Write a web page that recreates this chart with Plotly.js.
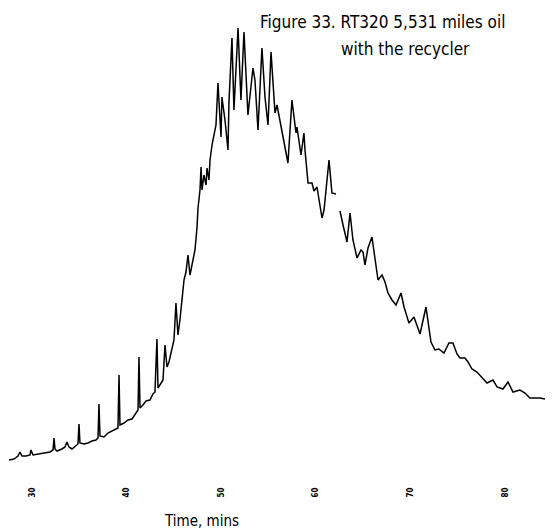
<!DOCTYPE html>
<html>
<head>
<meta charset="utf-8">
<script src="https://cdn.plot.ly/plotly-3.0.1.min.js"></script>
<style>html,body{margin:0;padding:0;background:#fff;}#chart{width:555px;height:531px;}</style>
</head>
<body>
<div id="chart"></div>
<script>
// Retention time (minutes) and detector response (arbitrary units).
// null marks the break in the trace near 62 min.
var timeMins = [
  27.57, 28.10, 28.52, 28.73, 28.94, 29.37, 29.79, 29.89, 30.11, 30.63,
  31.37, 31.90, 32.22, 32.33, 32.43, 32.64, 33.17, 33.49, 33.70, 33.91,
  34.23, 34.65, 34.86, 34.97, 35.07, 35.50, 35.92, 36.34, 36.76, 36.98,
  37.08, 37.19, 37.61, 38.03, 38.46, 38.77, 39.09, 39.20, 39.30, 39.72,
  40.15, 40.57, 40.89, 41.21, 41.31, 41.42, 41.73, 42.05, 42.47, 42.79,
  43.00, 43.21, 43.32, 43.53, 43.85, 44.06, 44.27, 44.48, 44.69, 45.01,
  45.22, 45.43, 45.64, 45.86, 46.07, 46.28, 46.49, 46.70, 47.02, 47.23,
  47.44, 47.55, 47.76, 47.87, 47.97, 48.18, 48.40, 48.50, 48.71, 48.82,
  49.03, 49.24, 49.45, 49.66, 49.98, 50.08, 50.40, 50.72, 50.82, 51.14,
  51.35, 51.78, 52.09, 52.41, 52.83, 53.36, 53.57, 53.89, 54.31, 54.63,
  54.95, 55.27, 55.69, 55.90, 56.32, 56.74, 57.06, 57.48, 57.91, 58.01,
  58.44, 58.75, 58.86, 59.18, 59.60, 59.81, 60.13, 60.23, 60.66, 60.87,
  61.40, 61.71, 62.14, 62.35,
  62.56, 62.77, 62.88, 63.30, 63.62, 63.93, 64.36, 64.78, 64.99, 65.20,
  65.52, 65.94, 66.26, 66.58, 67.00, 67.32, 67.63, 68.06, 68.48, 69.01,
  69.33, 69.85, 70.38, 71.02, 71.65, 72.18, 72.60, 73.02, 73.55, 74.08,
  74.50, 74.93, 75.24, 75.77, 76.09, 76.51, 77.04, 77.57, 78.10, 78.73,
  79.16, 79.79, 80.32, 80.85, 81.59, 82.12, 82.64, 83.70, 84.23
];
var response = [
  10, 11, 14, 18, 14, 14, 15, 20, 15, 16,
  17, 18, 20, 32, 21, 19, 21, 23, 28, 23,
  21, 24, 26, 46, 27, 26, 27, 29, 30, 32,
  66, 34, 33, 37, 39, 40, 42, 95, 45, 47,
  50, 51, 56, 60, 113, 62, 65, 69, 70, 76,
  78, 131, 82, 85, 90, 125, 103, 108, 118, 130,
  167, 135, 150, 170, 190, 198, 215, 195, 212, 220,
  242, 262, 280, 303, 280, 295, 285, 302, 290, 310,
  325, 335, 345, 387, 333, 373, 350, 320, 367, 432,
  360, 442, 370, 438, 355, 402, 390, 340, 422, 373,
  345, 418, 357, 365, 345, 323, 307, 370, 337, 343,
  315, 337, 320, 287, 287, 279, 283, 277, 252, 260,
  310, 277, 276, null,
  259, 247, 245, 228, 257, 230, 212, 220, 218, 205,
  222, 233, 210, 190, 195, 188, 177, 170, 165, 177,
  163, 147, 153, 136, 163, 128, 120, 121, 117, 127,
  127, 116, 112, 112, 108, 101, 98, 92, 87, 90,
  83, 81, 88, 78, 80, 77, 72, 72, 71
];
var tickValues = [30, 40, 50, 60, 70, 80];
var tickLabels = ["30", "40", "50", "60", "70", "80"];
var titleLine1 = "Figure 33. RT320 5,531 miles oil";
var titleLine2 = "with the recycler";
var xTitle = "Time, mins";

var narrow = '"DejaVu Sans Condensed", "Liberation Sans", sans-serif';

var trace = {
  x: timeMins,
  y: response,
  type: 'scatter',
  mode: 'lines',
  connectgaps: false,
  line: {color: '#000000', width: 1.5},
  hoverinfo: 'skip'
};

var layout = {
  width: 555,
  height: 531,
  margin: {l: 0, r: 0, t: 0, b: 61, pad: 0},
  paper_bgcolor: '#ffffff',
  plot_bgcolor: '#ffffff',
  showlegend: false,
  xaxis: {
    range: [26.617, 85.29],
    tickvals: tickValues,
    ticktext: tickLabels,
    tickangle: -90,
    ticks: '',
    ticklabelstandoff: 15,
    tickfont: {family: narrow, size: 8, weight: 'bold', color: '#000000'},
    showgrid: false,
    zeroline: false,
    showline: false,
    fixedrange: true
  },
  yaxis: {
    range: [0, 470],
    visible: false,
    showgrid: false,
    zeroline: false,
    fixedrange: true
  },
  annotations: [
    {text: titleLine1, xref: 'paper', yref: 'paper', x: 0.4649, y: 0.953,
     xanchor: 'left', yanchor: 'middle', showarrow: false,
     font: {family: narrow, size: 17, color: '#000000'}},
    {text: titleLine2, xref: 'paper', yref: 'paper', x: 0.6108, y: 0.895,
     xanchor: 'left', yanchor: 'middle', showarrow: false,
     font: {family: narrow, size: 17, color: '#000000'}},
    {text: xTitle, xref: 'paper', yref: 'paper', x: 0.363, y: -0.1085,
     xanchor: 'center', yanchor: 'middle', showarrow: false,
     font: {family: narrow, size: 15, color: '#000000'}}
  ]
};

Plotly.newPlot('chart', [trace], layout, {displayModeBar: false, staticPlot: true});
</script>
</body>
</html>
